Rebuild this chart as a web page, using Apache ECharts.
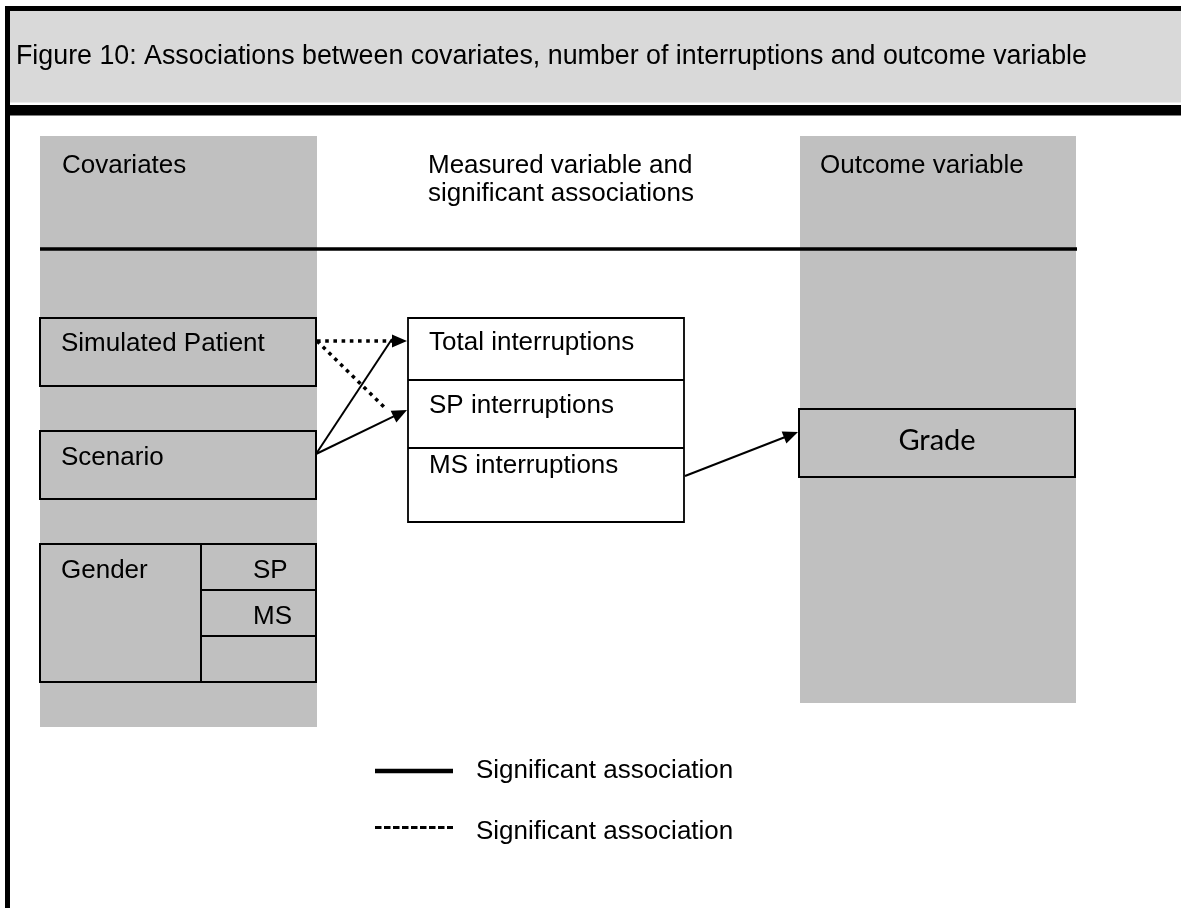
<!DOCTYPE html>
<html><head><meta charset="utf-8">
<script src="https://cdn.jsdelivr.net/npm/echarts@6/dist/echarts.min.js"></script>
<style>html,body{margin:0;padding:0;background:#fff}#c{width:1181px;height:908px}</style>
</head><body><div id="c"></div>
<script>
// ---------- content ----------
const TITLE = "Figure 10: Associations between covariates, number of interruptions and outcome variable";
const COLUMN_HEADS = ["Covariates", "Measured variable and\nsignificant associations", "Outcome variable"];
const COVARIATES = ["Simulated Patient", "Scenario", "Gender"];
const GENDER_GROUPS = ["SP", "MS", ""];
const MEASURED = ["Total interruptions", "SP interruptions", "MS interruptions"];
const OUTCOMES = ["Grade"];
const LINK_FROM = ["Simulated Patient", "Simulated Patient", "Scenario", "Scenario", "MS interruptions"];
const LINK_TO   = ["Total interruptions", "SP interruptions", "Total interruptions", "SP interruptions", "Grade"];
const LINK_KIND = ["dotted", "dotted", "solid", "solid", "solid"];
const LEGEND_KIND = ["solid", "dotted"];
const LEGEND_LABEL = ["Significant association", "Significant association"];

// ---------- layout (diagram units = canvas pixels) ----------
const W = 1181, H = 908;
const LAYOUT = {
  frame: { x0: 5, x1: 10, y0: 6, y1: 11 },
  header: { x0: 10, y0: 11, x1: W, y1: 102.5, textX: 16, textY: 57, barY0: 105, barY1: 115.5 },
  columns: [{ x0: 40, x1: 317, y0: 136, y1: 727 }, { x0: 800, x1: 1076, y0: 136, y1: 703 }],
  heads: { x: [62, 428, 820], y: 166, lineH: 28 },
  rule: { x0: 40, x1: 1077, y: 249, lw: 3.5 },
  cov: { x0: 40, x1: 316, rows: [[318, 386], [431, 499], [544, 682]], textX: 61, textY: [343.5, 457.5, 571],
         split: 201, subRows: [[544, 590], [590, 636], [636, 682]], subX1: 317, subTextX: 253, subTextY: [571, 617, 663] },
  meas: { x0: 408, x1: 684, rows: [[318, 380], [380, 448], [448, 522]], textX: 429, textY: [343, 406, 466] },
  out: { x0: 799, x1: 1075, y0: 409, y1: 477, textY: 440.5 },
  links: [ // anchor offsets relative to source right edge / target left edge
    { sdx: 1, sdy: 23, tdx: -1, tdy: 23, head: true },
    { sdx: 1, sdy: 23, tdx: -21, tdy: 30, head: false },
    { sdx: 0, sdy: 23, tdx: -16, tdy: 21, head: false },
    { sdx: 0, sdy: 23, tdx: -1, tdy: 30, head: true },
    { sdx: 1, sdy: 28, tdx: -1, tdy: 23, head: true }
  ],
  legend: { x0: 375, x1: 453, textX: 476, y: [771, 827.5], textY: [770.5, 832] }
};
const GREY_HEAD = "#d9d9d9", GREY = "#c0c0c0";
const FONT = '26px "Liberation Sans", Arial, sans-serif';
const FONT_TITLE = '26.8px "Liberation Sans", Arial, sans-serif';
const FONT_GRADE = '29px Lato, "Open Sans", sans-serif';
const LINE_STYLE = {
  solid: { lineWidth: 2, lineDash: null },
  dotted: { lineWidth: 3.5, lineDash: [3.6, 4.6] }
};
const LEGEND_STYLE = {
  solid: { lineWidth: 4.3, lineDash: null },
  dotted: { lineWidth: 3, lineDash: [6.5, 2.5] }
};

// box lookup by name
const BOXES = {};
COVARIATES.forEach((n, i) => BOXES[n] = { x0: LAYOUT.cov.x0, x1: LAYOUT.cov.x1, y0: LAYOUT.cov.rows[i][0], y1: LAYOUT.cov.rows[i][1] });
MEASURED.forEach((n, i) => BOXES[n] = { x0: LAYOUT.meas.x0, x1: LAYOUT.meas.x1, y0: LAYOUT.meas.rows[i][0], y1: LAYOUT.meas.rows[i][1] });
OUTCOMES.forEach((n) => BOXES[n] = { x0: LAYOUT.out.x0, x1: LAYOUT.out.x1, y0: LAYOUT.out.y0, y1: LAYOUT.out.y1 });

const chart = echarts.init(document.getElementById('c'), null, { renderer: 'canvas' });

function rectEl(api, x0, y0, x1, y1, style) {
  const a = api.coord([x0, y0]), b = api.coord([x1, y1]);
  return { type: 'rect', shape: { x: Math.min(a[0], b[0]), y: Math.min(a[1], b[1]), width: Math.abs(b[0] - a[0]), height: Math.abs(b[1] - a[1]) }, style: style };
}
function lineEl(api, x0, y0, x1, y1, style) {
  const a = api.coord([x0, y0]), b = api.coord([x1, y1]);
  return { type: 'line', shape: { x1: a[0], y1: a[1], x2: b[0], y2: b[1] }, style: style };
}
function textEl(api, x, y, text, font, align) {
  const p = api.coord([x, y]);
  return { type: 'text', style: { text: text, x: p[0], y: p[1], font: font, fill: '#000', align: align || 'left', verticalAlign: 'middle', lineHeight: LAYOUT.heads.lineH } };
}

// panels layer
function renderPanels(params, api) {
  const L = LAYOUT, c = [];
  c.push(rectEl(api, L.header.x0, L.header.y0, L.header.x1, L.header.y1, { fill: GREY_HEAD }));
  c.push(rectEl(api, L.frame.x0, L.frame.y0, W, L.frame.y1, { fill: '#000' }));
  c.push(rectEl(api, L.frame.x0, L.frame.y0, L.frame.x1, H, { fill: '#000' }));
  c.push(rectEl(api, L.frame.x1, L.header.barY0, W, L.header.barY1, { fill: '#000' }));
  L.columns.forEach(col => c.push(rectEl(api, col.x0, col.y0, col.x1, col.y1, { fill: GREY })));
  c.push(lineEl(api, L.rule.x0, L.rule.y, L.rule.x1, L.rule.y, { stroke: '#000', lineWidth: L.rule.lw }));
  return { type: 'group', children: c };
}

// boxes layer
function renderBoxes(params, api) {
  const L = LAYOUT, c = [];
  const bs = { fill: GREY, stroke: '#000', lineWidth: 2 };
  COVARIATES.forEach(n => { const b = BOXES[n]; c.push(rectEl(api, b.x0, b.y0, b.x1, b.y1, bs)); });
  c.push(lineEl(api, L.cov.split, L.cov.subRows[0][0], L.cov.split, L.cov.subRows[2][1], { stroke: '#000', lineWidth: 2 }));
  GENDER_GROUPS.forEach((g, i) => { if (i < GENDER_GROUPS.length - 1) c.push(lineEl(api, L.cov.split, L.cov.subRows[i][1], L.cov.subX1, L.cov.subRows[i][1], { stroke: '#000', lineWidth: 2 })); });
  c.push(rectEl(api, L.meas.x0, L.meas.rows[0][0], L.meas.x1, L.meas.rows[2][1], { fill: '#fff', stroke: '#000', lineWidth: 1.8 }));
  MEASURED.forEach((n, i) => { if (i > 0) c.push(lineEl(api, L.meas.x0, L.meas.rows[i][0], L.meas.x1, L.meas.rows[i][0], { stroke: '#000', lineWidth: 1.8 })); });
  OUTCOMES.forEach(n => { const b = BOXES[n]; c.push(rectEl(api, b.x0, b.y0, b.x1, b.y1, bs)); });
  return { type: 'group', children: c };
}

// links layer
function renderLinks(params, api) {
  const c = [];
  LINK_FROM.forEach((f, i) => {
    const g = LAYOUT.links[i], s = BOXES[f], t = BOXES[LINK_TO[i]];
    const a = api.coord([s.x1 + g.sdx, s.y0 + g.sdy]);
    const b = api.coord([t.x0 + g.tdx, t.y0 + g.tdy]);
    const dx = b[0] - a[0], dy = b[1] - a[1], len = Math.hypot(dx, dy);
    const ux = dx / len, uy = dy / len;
    const st = LINE_STYLE[LINK_KIND[i]];
    const headL = 15, headW = 6.5;
    const end = g.head ? [b[0] - ux * (headL - 2), b[1] - uy * (headL - 2)] : b;
    c.push({ type: 'line', shape: { x1: a[0], y1: a[1], x2: end[0], y2: end[1] }, style: { stroke: '#000', lineWidth: st.lineWidth, lineDash: st.lineDash, lineCap: 'butt' } });
    if (g.head) {
      const bx = b[0] - ux * headL, by = b[1] - uy * headL;
      c.push({ type: 'polygon', shape: { points: [[b[0], b[1]], [bx - uy * headW, by + ux * headW], [bx + uy * headW, by - ux * headW]] }, style: { fill: '#000' } });
    }
  });
  return { type: 'group', children: c };
}

// labels layer
function renderLabels(params, api) {
  const L = LAYOUT, c = [];
  c.push(textEl(api, L.header.textX, L.header.textY, TITLE, FONT_TITLE));
  COLUMN_HEADS.forEach((h, i) => {
    h.split('\n').forEach((line, k) => c.push(textEl(api, L.heads.x[i], L.heads.y + k * L.heads.lineH, line, FONT)));
  });
  COVARIATES.forEach((n, i) => c.push(textEl(api, L.cov.textX, L.cov.textY[i], n, FONT)));
  GENDER_GROUPS.forEach((g, i) => { if (g) c.push(textEl(api, L.cov.subTextX, L.cov.subTextY[i], g, FONT)); });
  MEASURED.forEach((n, i) => c.push(textEl(api, L.meas.textX, L.meas.textY[i], n, FONT)));
  OUTCOMES.forEach(n => { const b = BOXES[n]; c.push(textEl(api, (b.x0 + b.x1) / 2, L.out.textY, n, FONT_GRADE, 'center')); });
  return { type: 'group', children: c };
}

// legend layer
function renderLegend(params, api) {
  const L = LAYOUT.legend, c = [];
  LEGEND_KIND.forEach((k, i) => {
    const st = LEGEND_STYLE[k];
    c.push(lineEl(api, L.x0, L.y[i], L.x1, L.y[i], { stroke: '#000', lineWidth: st.lineWidth, lineDash: st.lineDash, lineCap: 'butt' }));
    c.push(textEl(api, L.textX, L.textY[i], LEGEND_LABEL[i], FONT));
  });
  return { type: 'group', children: c };
}

const layer = (name, fn, z) => ({ type: 'custom', name: name, coordinateSystem: 'cartesian2d', renderItem: fn, data: [[0, 0]], clip: false, silent: true, z: z, animation: false });

chart.setOption({
  backgroundColor: '#fff',
  animation: false,
  grid: { left: 0, right: 0, top: 0, bottom: 0 },
  xAxis: { type: 'value', min: 0, max: W, show: false },
  yAxis: { type: 'value', min: 0, max: H, inverse: true, show: false },
  series: [
    layer('panels', renderPanels, 1),
    layer('boxes', renderBoxes, 2),
    layer('links', renderLinks, 3),
    layer('labels', renderLabels, 4),
    layer('legend', renderLegend, 4)
  ]
});
</script></body></html>
